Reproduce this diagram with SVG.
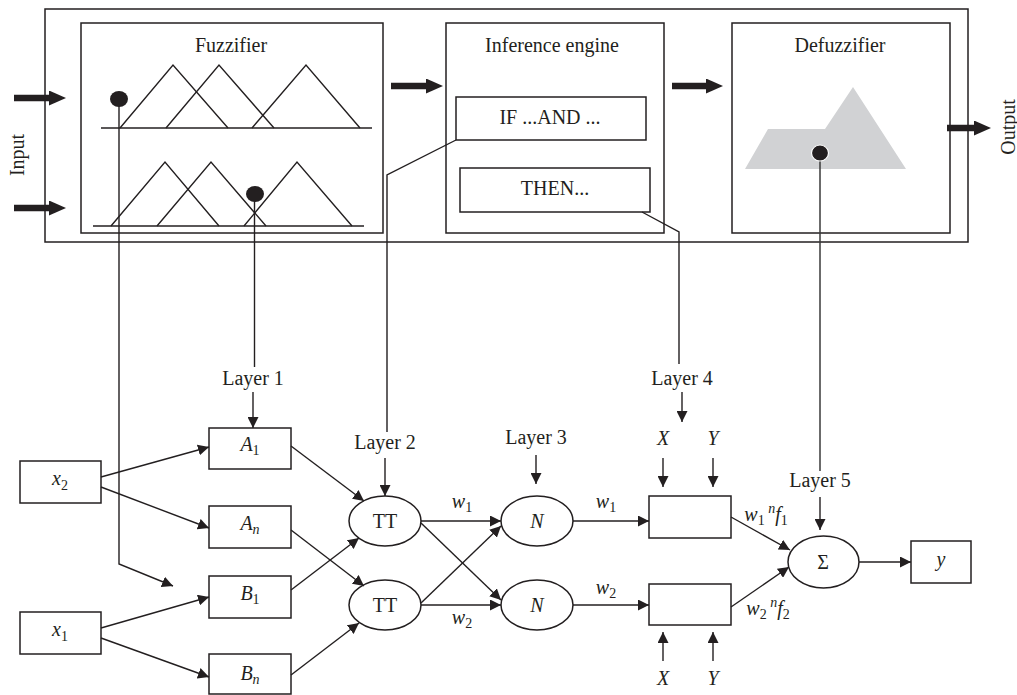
<svg xmlns="http://www.w3.org/2000/svg" width="1017" height="695" viewBox="0 0 1017 695">
<style>
.t{font-family:"Liberation Serif","Times New Roman",serif;font-size:20px;fill:#231f20}
.i{font-style:italic}
.s{font-size:14px}
.box{fill:#fff;stroke:#231f20;stroke-width:1.5}
.ln{fill:none;stroke:#231f20;stroke-width:1.4}
.gl{fill:none;stroke:#3a3a3a;stroke-width:1.5}
.tri{fill:none;stroke:#231f20;stroke-width:1.4}
.thick{fill:none;stroke:#231f20;stroke-width:6.5}
</style>
<defs>
<marker id="ah" markerUnits="userSpaceOnUse" markerWidth="12" markerHeight="11" refX="11" refY="5.5" orient="auto">
<path d="M0,0 L11,5.5 L0,11 z" fill="#231f20"/>
</marker>
<marker id="tk" markerUnits="userSpaceOnUse" markerWidth="18" markerHeight="15" refX="0" refY="7.5" orient="auto">
<path d="M0,0 L17,7.5 L0,15 z" fill="#231f20"/>
</marker>
</defs>
<rect width="1017" height="695" fill="#fff"/>

<g id="system">
<rect x="45" y="9" width="923" height="233" class="box"/>
</g>

<g id="fuzzifier">
<rect x="81" y="23" width="302" height="210" class="box"/>
<text class="t" x="231" y="52" text-anchor="middle">Fuzzifier</text>
<line x1="101" y1="128" x2="372" y2="128" class="tri"/>
<polyline points="120,128 173,65 228,128" class="tri"/>
<polyline points="166,128 219,65 274,128" class="tri"/>
<polyline points="252,128 306,65 360,128" class="tri"/>
<line x1="93" y1="226" x2="364" y2="226" class="tri"/>
<polyline points="111,226 165,162 219,226" class="tri"/>
<polyline points="157,226 211,162 266,226" class="tri"/>
<polyline points="244,226 297,162 352,226" class="tri"/>
</g>

<g id="inference">
<rect x="446" y="23" width="218" height="210" class="box"/>
<text class="t" x="552" y="52" text-anchor="middle">Inference engine</text>
</g>
<g id="rule-if">
<rect x="456" y="97" width="190" height="43" class="box"/>
<text class="t" x="550" y="124" text-anchor="middle">IF ...AND ...</text>
</g>
<g id="rule-then">
<rect x="460" y="168" width="190" height="44" class="box"/>
<text class="t" x="555" y="195" text-anchor="middle">THEN...</text>
</g>

<g id="defuzzifier">
<rect x="732" y="23" width="218" height="210" class="box"/>
<text class="t" x="840" y="52" text-anchor="middle">Defuzzifier</text>
<polygon points="745,169 768,129 825,129 853,87 906,169" fill="#d1d2d4"/>
</g>

<g id="labels-io">
<text class="t" transform="translate(24,155) rotate(-90)" text-anchor="middle">Input</text>
<text class="t" transform="translate(1015,127) rotate(-90)" text-anchor="middle">Output</text>
</g>

<g id="x2"><rect x="20" y="461" width="81" height="42" class="box"/>
<text class="t" x="60" y="485" text-anchor="middle"><tspan class="i">x</tspan><tspan class="s" dy="5">2</tspan></text></g>
<g id="x1"><rect x="20" y="612" width="81" height="42" class="box"/>
<text class="t" x="60" y="636" text-anchor="middle"><tspan class="i">x</tspan><tspan class="s" dy="5">1</tspan></text></g>

<g id="A1"><rect x="209" y="428" width="82" height="41" class="box"/>
<text class="t" x="250" y="451" text-anchor="middle"><tspan class="i">A</tspan><tspan class="s" dy="4">1</tspan></text></g>
<g id="An"><rect x="209" y="506" width="82" height="42" class="box"/>
<text class="t" x="250" y="530" text-anchor="middle"><tspan class="i">A</tspan><tspan class="s i" dy="4">n</tspan></text></g>
<g id="B1"><rect x="209" y="576" width="82" height="42" class="box"/>
<text class="t" x="250" y="600" text-anchor="middle"><tspan class="i">B</tspan><tspan class="s" dy="4">1</tspan></text></g>
<g id="Bn"><rect x="209" y="654" width="82" height="40" class="box"/>
<text class="t" x="250" y="680" text-anchor="middle"><tspan class="i">B</tspan><tspan class="s i" dy="4">n</tspan></text></g>

<g id="TT1"><ellipse cx="385" cy="521" rx="36" ry="25" class="box"/>
<text class="t" x="385" y="528" text-anchor="middle">TT</text></g>
<g id="TT2"><ellipse cx="385" cy="605" rx="36" ry="25" class="box"/>
<text class="t" x="385" y="612" text-anchor="middle">TT</text></g>

<g id="N1"><ellipse cx="537" cy="521" rx="36" ry="25" class="box"/>
<text class="t i" x="537" y="528" text-anchor="middle">N</text></g>
<g id="N2"><ellipse cx="537" cy="605" rx="36" ry="25" class="box"/>
<text class="t i" x="537" y="612" text-anchor="middle">N</text></g>

<g id="R1"><rect x="649" y="496" width="82" height="42" class="box"/></g>
<g id="R2"><rect x="649" y="584" width="82" height="41" class="box"/></g>

<g id="sum"><ellipse cx="823.5" cy="562" rx="35.5" ry="26" class="box"/>
<text class="t" x="823" y="569" text-anchor="middle">Σ</text></g>

<g id="y"><rect x="911" y="541" width="60" height="42" class="box"/>
<text class="t i" x="941" y="566" text-anchor="middle" font-size="15">y</text></g>

<g id="layer-labels">
<text class="t" x="253" y="385" text-anchor="middle">Layer 1</text>
<text class="t" x="385" y="449" text-anchor="middle">Layer 2</text>
<text class="t" x="536" y="444" text-anchor="middle">Layer 3</text>
<text class="t" x="682" y="385" text-anchor="middle">Layer 4</text>
<text class="t" x="820" y="487" text-anchor="middle">Layer 5</text>
<text class="t i" x="663" y="445" text-anchor="middle">X</text>
<text class="t i" x="713" y="445" text-anchor="middle">Y</text>
<text class="t i" x="663" y="685" text-anchor="middle">X</text>
<text class="t i" x="713" y="685" text-anchor="middle">Y</text>
</g>

<g id="weight-labels">
<text class="t" x="462" y="508" text-anchor="middle"><tspan class="i">w</tspan><tspan class="s" dy="4">1</tspan></text>
<text class="t" x="462" y="624" text-anchor="middle"><tspan class="i">w</tspan><tspan class="s" dy="4">2</tspan></text>
<text class="t" x="606" y="508" text-anchor="middle"><tspan class="i">w</tspan><tspan class="s" dy="4">1</tspan></text>
<text class="t" x="606" y="594" text-anchor="middle"><tspan class="i">w</tspan><tspan class="s" dy="4">2</tspan></text>
<text class="t" x="766" y="521" text-anchor="middle"><tspan class="i">w</tspan><tspan class="s" dy="4">1</tspan><tspan class="s i" dy="-12"> n</tspan><tspan class="i" dy="8">f</tspan><tspan class="s" dy="4">1</tspan></text>
<text class="t" x="768" y="615" text-anchor="middle"><tspan class="i">w</tspan><tspan class="s" dy="4">2</tspan><tspan class="s i" dy="-12"> n</tspan><tspan class="i" dy="8">f</tspan><tspan class="s" dy="4">2</tspan></text>
</g>

<g id="connectors">
<!-- thick block arrows -->
<line x1="14" y1="98" x2="49" y2="98" class="thick" marker-end="url(#tk)"/>
<line x1="14" y1="208" x2="49" y2="208" class="thick" marker-end="url(#tk)"/>
<line x1="391" y1="86" x2="426" y2="86" class="thick" marker-end="url(#tk)"/>
<line x1="672" y1="86" x2="706" y2="86" class="thick" marker-end="url(#tk)"/>
<line x1="947" y1="128" x2="974" y2="128" class="thick" marker-end="url(#tk)"/>

<!-- links from upper system to ANFIS layers -->
<polyline points="119,99 119,564 173,586" class="ln" marker-end="url(#ah)"/>
<line x1="254.5" y1="194" x2="254.5" y2="367" class="ln"/>
<polyline points="456,140 387,175 387,432" class="ln"/>
<polyline points="642,212 679,232 679,364" class="ln"/>
<line x1="820" y1="153" x2="820" y2="471" class="gl"/>

<!-- layer arrows -->
<line x1="253" y1="392" x2="253" y2="428" class="ln" marker-end="url(#ah)"/>
<line x1="385" y1="458" x2="385" y2="496" class="ln" marker-end="url(#ah)"/>
<line x1="536" y1="455" x2="536" y2="484" class="ln" marker-end="url(#ah)"/>
<line x1="682" y1="392" x2="682" y2="422" class="ln" marker-end="url(#ah)"/>
<line x1="820" y1="497" x2="820" y2="530" class="ln" marker-end="url(#ah)"/>
<line x1="663" y1="458" x2="663" y2="487" class="ln" marker-end="url(#ah)"/>
<line x1="713" y1="458" x2="713" y2="487" class="ln" marker-end="url(#ah)"/>
<line x1="663" y1="661" x2="663" y2="632" class="ln" marker-end="url(#ah)"/>
<line x1="713" y1="661" x2="713" y2="632" class="ln" marker-end="url(#ah)"/>

<!-- input to layer 1 -->
<line x1="101" y1="477" x2="209" y2="447" class="ln" marker-end="url(#ah)"/>
<line x1="101" y1="487" x2="209" y2="528" class="ln" marker-end="url(#ah)"/>
<line x1="101" y1="628" x2="209" y2="597" class="ln" marker-end="url(#ah)"/>
<line x1="101" y1="638" x2="209" y2="677" class="ln" marker-end="url(#ah)"/>

<!-- layer 1 to layer 2 -->
<line x1="291" y1="446" x2="364" y2="501" class="ln" marker-end="url(#ah)"/>
<line x1="291" y1="530" x2="364" y2="586" class="ln" marker-end="url(#ah)"/>
<line x1="291" y1="590" x2="359" y2="538" class="ln" marker-end="url(#ah)"/>
<line x1="291" y1="675" x2="359" y2="623" class="ln" marker-end="url(#ah)"/>

<!-- layer 2 to layer 3 -->
<line x1="421" y1="521" x2="501" y2="521" class="ln" marker-end="url(#ah)"/>
<line x1="421" y1="605" x2="501" y2="605" class="ln" marker-end="url(#ah)"/>
<line x1="421" y1="523" x2="501" y2="600" class="ln" marker-end="url(#ah)"/>
<line x1="421" y1="603" x2="501" y2="526" class="ln" marker-end="url(#ah)"/>

<!-- layer 3 to layer 4 -->
<line x1="573" y1="521" x2="649" y2="521" class="ln" marker-end="url(#ah)"/>
<line x1="573" y1="605" x2="649" y2="605" class="ln" marker-end="url(#ah)"/>

<!-- layer 4 to layer 5 -->
<line x1="731" y1="517" x2="790" y2="550" class="ln" marker-end="url(#ah)"/>
<line x1="731" y1="607" x2="789" y2="567" class="ln" marker-end="url(#ah)"/>
<line x1="859" y1="562" x2="911" y2="562" class="ln" marker-end="url(#ah)"/>
</g>

<g id="dots">
<ellipse cx="119" cy="99" rx="9" ry="8" fill="#231f20"/>
<ellipse cx="255" cy="194" rx="9" ry="8" fill="#231f20"/>
<ellipse cx="820" cy="153" rx="8.5" ry="8" fill="#231f20" stroke="#fff" stroke-width="1.2"/>
</g>
</svg>
